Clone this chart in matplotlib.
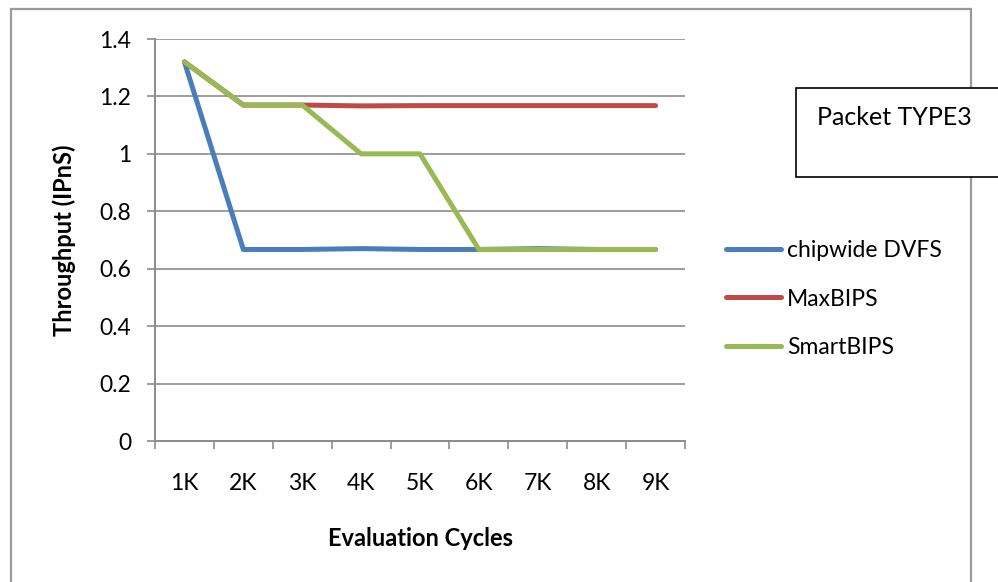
import matplotlib
matplotlib.use("Agg")
import matplotlib.pyplot as plt
from matplotlib.patches import Rectangle

plt.rcParams['font.family'] = ['Lato', 'DejaVu Sans']

# Data
cycles = ['1K', '2K', '3K', '4K', '5K', '6K', '7K', '8K', '9K']
chipwide_dvfs = [1.32, 0.667, 0.667, 0.67, 0.667, 0.667, 0.67, 0.667, 0.667]
maxbips = [1.32, 1.17, 1.17, 1.167, 1.168, 1.168, 1.168, 1.168, 1.168]
smartbips = [1.32, 1.17, 1.17, 1.0, 1.0, 0.667, 0.667, 0.667, 0.667]

fig = plt.figure(figsize=(9.98, 5.82), dpi=100)
W, H = 998, 582

# outer chart border
fig.patches.append(Rectangle((11 / W, -0.05), (971 - 11) / W, 1.05 - 9 / H,
                             transform=fig.transFigure, fill=False,
                             edgecolor='#9a9a9a', linewidth=1.6))

ax = fig.add_axes([155 / W, 1 - 441 / H, (685 - 155) / W, (441 - 39) / H])

x = list(range(len(cycles)))
ax.plot(x, chipwide_dvfs, color='#4A7EBB', linewidth=3.6, label='chipwide DVFS',
        solid_capstyle='round', solid_joinstyle='round', zorder=3)
ax.plot(x, maxbips, color='#BE4B48', linewidth=3.6, label='MaxBIPS',
        solid_capstyle='round', solid_joinstyle='round', zorder=3)
ax.plot(x, smartbips, color='#98B954', linewidth=3.6, label='SmartBIPS',
        solid_capstyle='round', solid_joinstyle='round', zorder=4)

ax.set_xlim(-0.5, len(cycles) - 0.5)
ax.set_ylim(0, 1.4)
ax.set_yticks([0, 0.2, 0.4, 0.6, 0.8, 1.0, 1.2, 1.4])
ax.set_yticklabels(['0', '0.2', '0.4', '0.6', '0.8', '1', '1.2', '1.4'])
ax.set_xticks(x)
ax.set_xticklabels(cycles)
ax.set_xticks([i - 0.5 for i in range(len(cycles) + 1)], minor=True)

ax.grid(axis='y', color='#8c8c8c', linewidth=1.2)
ax.set_axisbelow(True)
for s in ['top', 'right']:
    ax.spines[s].set_visible(False)
for s in ['left', 'bottom']:
    ax.spines[s].set_color('#8c8c8c')
    ax.spines[s].set_linewidth(1.4)

ax.tick_params(axis='y', direction='out', length=6, width=1.2, color='#8c8c8c',
               labelsize=16.5, pad=11)
ax.tick_params(axis='x', which='major', length=0, labelsize=16.5, pad=23)
ax.tick_params(axis='x', which='minor', direction='out', length=6, width=1.2,
               color='#8c8c8c')

ax.set_ylabel('Throughput (IPnS)', fontsize=17, fontweight='bold', labelpad=17)
ax.set_xlabel('Evaluation Cycles', fontsize=17, fontweight='bold', labelpad=24)

fig.legend(loc='upper left', bbox_to_anchor=(726 / W, 1 - 240 / H),
           frameon=False, fontsize=16.5, handlelength=2.4, handletextpad=0.25,
           labelspacing=1.2, borderaxespad=0, borderpad=0)

# text box
fig.patches.append(Rectangle((796 / W, 1 - 177 / H), 220 / W, 89 / H,
                             transform=fig.transFigure, facecolor='white',
                             edgecolor='black', linewidth=1.2, zorder=5))
fig.text(817 / W, 1 - 118 / H, 'Packet TYPE3', fontsize=18, va='center',
         ha='left', zorder=6)

fig.savefig('out.png', dpi=100)
